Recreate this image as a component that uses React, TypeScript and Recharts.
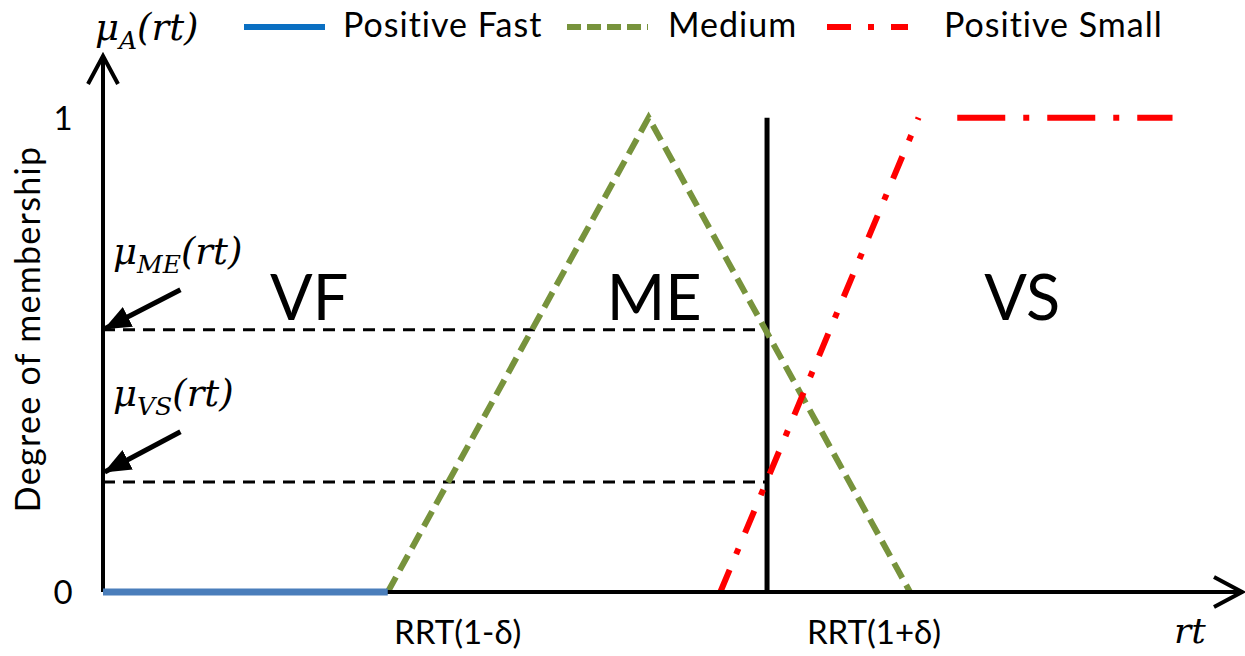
import React from 'react'
import { LineChart, Line, XAxis, YAxis, ReferenceLine, ReferenceDot } from 'recharts'

// membership functions, x in percent of the rt axis, y = degree of membership
const positiveFast = [{ x: 0, y: 0 }, { x: 25, y: 0 }]
const medium = [{ x: 25, y: 0 }, { x: 47.9, y: 1 }, { x: 70.85, y: 0 }]
const positiveSmallRise = [{ x: 54.2, y: 0 }, { x: 71.6, y: 1 }]
const positiveSmallFlat = [{ x: 75, y: 1 }, { x: 93.9, y: 1 }]

const rtValue = 58.3
const muME = 0.553
const muVS = 0.232

const yTicks = [0, 1]
const xTicks = [25, 70.85]
const xTickLabels = ['RRT(1-δ)', 'RRT(1+δ)']

const regionNames = ['VF', 'ME', 'VS']
const regionCenters = [18.1, 48.4, 80.7]

const legendNames = ['Positive Fast', 'Medium', 'Positive Small']

const FONT = 'Lato, "Open Sans", sans-serif'
const MATH = '"DejaVu Serif", "Liberation Serif", serif'

const legendStyle = [
    { color: '#0a6fc2', dash: undefined, x: 244, tx: 343 },
    { color: '#77933c', dash: '14 6', x: 567, tx: 668 },
    { color: '#ff0000', dash: '24 17 6 17', x: 827, tx: 944 },
]
const X_LABEL_NUDGE = [70, -36]

const XTick = (props: any) => {
    const { x, y, payload, index } = props
    return (
        <text x={x + X_LABEL_NUDGE[index]} y={y} dy={52} textAnchor="middle" fontFamily={FONT} fontSize={33} fill="#000">
            {xTickLabels[xTicks.indexOf(payload.value)]}
        </text>
    )
}

const YTick = (props: any) => {
    const { x, y, payload } = props
    return (
        <text x={x - 40} y={y} dy={12} textAnchor="middle" fontFamily={FONT} fontSize={33} fill="#000">
            {payload.value}
        </text>
    )
}

// math style label: mu with a subscript and (rt)
const MuLabel = ({ x, y, sub }: { x: number; y: number; sub: string }) => (
    <text x={x} y={y} fontFamily={MATH} fontStyle="italic" fontSize={37} fill="#000">
        <tspan>μ</tspan>
        <tspan dy={9} fontSize={25}>{sub}</tspan>
        <tspan dy={-9}>(rt)</tspan>
    </text>
)

export default function App() {
    return (
        <div style={{ position: 'absolute', left: 0, top: 0, width: 1245, height: 656, background: '#fff' }}>
            <LineChart width={1245} height={656} margin={{ top: 56, right: 3, bottom: 0, left: 0 }}>
                <defs>
                    <marker id="axisHead" markerUnits="userSpaceOnUse" markerWidth={40} markerHeight={40} viewBox="0 0 40 40" refX={30} refY={20} orient="auto-start-reverse">
                        <path d="M2,5 L30,20 L2,35" fill="none" stroke="#000" strokeWidth={4} />
                    </marker>
                    <marker id="pointerHead" markerUnits="userSpaceOnUse" markerWidth={30} markerHeight={30} viewBox="0 0 30 30" refX={26} refY={15} orient="auto">
                        <path d="M0,4 L27,15 L0,26 Z" fill="#000" />
                    </marker>
                </defs>

                <XAxis
                    type="number"
                    dataKey="x"
                    domain={[0, 100]}
                    ticks={xTicks}
                    interval={0}
                    height={64}
                    tickSize={0}
                    tickMargin={0}
                    tickLine={false}
                    axisLine={{ stroke: '#000', strokeWidth: 4, markerEnd: 'url(#axisHead)' }}
                    tick={<XTick />}
                />
                <YAxis
                    type="number"
                    domain={[0, 1.13]}
                    ticks={yTicks}
                    width={103}
                    tickSize={0}
                    tickMargin={0}
                    tickLine={false}
                    axisLine={{ stroke: '#000', strokeWidth: 4, markerStart: 'url(#axisHead)' }}
                    tick={<YTick />}
                />

                {/* membership levels read at rt */}
                <ReferenceLine segment={[{ x: 0, y: muME }, { x: rtValue, y: muME }]} stroke="#000" strokeWidth={3} strokeDasharray="12 8" />
                <ReferenceLine segment={[{ x: 0, y: muVS }, { x: rtValue, y: muVS }]} stroke="#000" strokeWidth={3} strokeDasharray="12 8" />
                <ReferenceLine segment={[{ x: rtValue, y: 0 }, { x: rtValue, y: 1 }]} stroke="#000" strokeWidth={5} />

                {/* pointers to the levels */}
                <ReferenceLine segment={[{ x: 6.8, y: muME + 0.084 }, { x: 0.15, y: muME + 0.002 }]} stroke="#000" strokeWidth={5} markerEnd="url(#pointerHead)" />
                <ReferenceLine segment={[{ x: 6.8, y: muVS + 0.106 }, { x: 0.15, y: muVS + 0.021 }]} stroke="#000" strokeWidth={5} markerEnd="url(#pointerHead)" />

                <Line data={positiveFast} dataKey="y" name={legendNames[0]} stroke="#4a7ebb" strokeWidth={7} dot={false} isAnimationActive={false} zIndex={800} />
                <Line data={medium} dataKey="y" name={legendNames[1]} stroke="#77933c" strokeWidth={6} strokeDasharray="17 8" dot={false} isAnimationActive={false} />
                <Line data={positiveSmallRise} dataKey="y" name={legendNames[2]} stroke="#ff0000" strokeWidth={6} strokeDasharray="24 17 6 17" dot={false} isAnimationActive={false} />
                <Line data={positiveSmallFlat} dataKey="y" stroke="#ff0000" strokeWidth={6} strokeDasharray="48 18 6 18" dot={false} isAnimationActive={false} />

                {regionNames.map((name, i) => (
                    <ReferenceDot
                        key={name}
                        x={regionCenters[i]}
                        y={0.574}
                        r={0}
                        shape={(p: any) => (
                            <text x={p.cx} y={p.cy} textAnchor="middle" fontFamily={FONT} fontSize={63} fill="#000">{name}</text>
                        )}
                    />
                ))}

                <MuLabel x={95} y={40} sub="A" />
                <MuLabel x={113} y={264} sub="ME" />
                <MuLabel x={113} y={406} sub="VS" />
                <text x={1174} y={643} fontFamily={MATH} fontStyle="italic" fontSize={36} fill="#000">rt</text>

                <text transform="translate(40,329) rotate(-90)" textAnchor="middle" fontFamily={FONT} fontSize={34} letterSpacing={1.3} fill="#000">
                    Degree of membership
                </text>

                {/* legend */}
                {legendNames.map((name, i) => (
                    <g key={name}>
                        <line x1={legendStyle[i].x} x2={legendStyle[i].x + 81} y1={27} y2={27} stroke={legendStyle[i].color} strokeWidth={6} strokeDasharray={legendStyle[i].dash} />
                        <text x={legendStyle[i].tx} y={37} fontFamily={FONT} fontSize={34} letterSpacing={1} fill="#000">{name}</text>
                    </g>
                ))}
            </LineChart>
        </div>
    )
}
